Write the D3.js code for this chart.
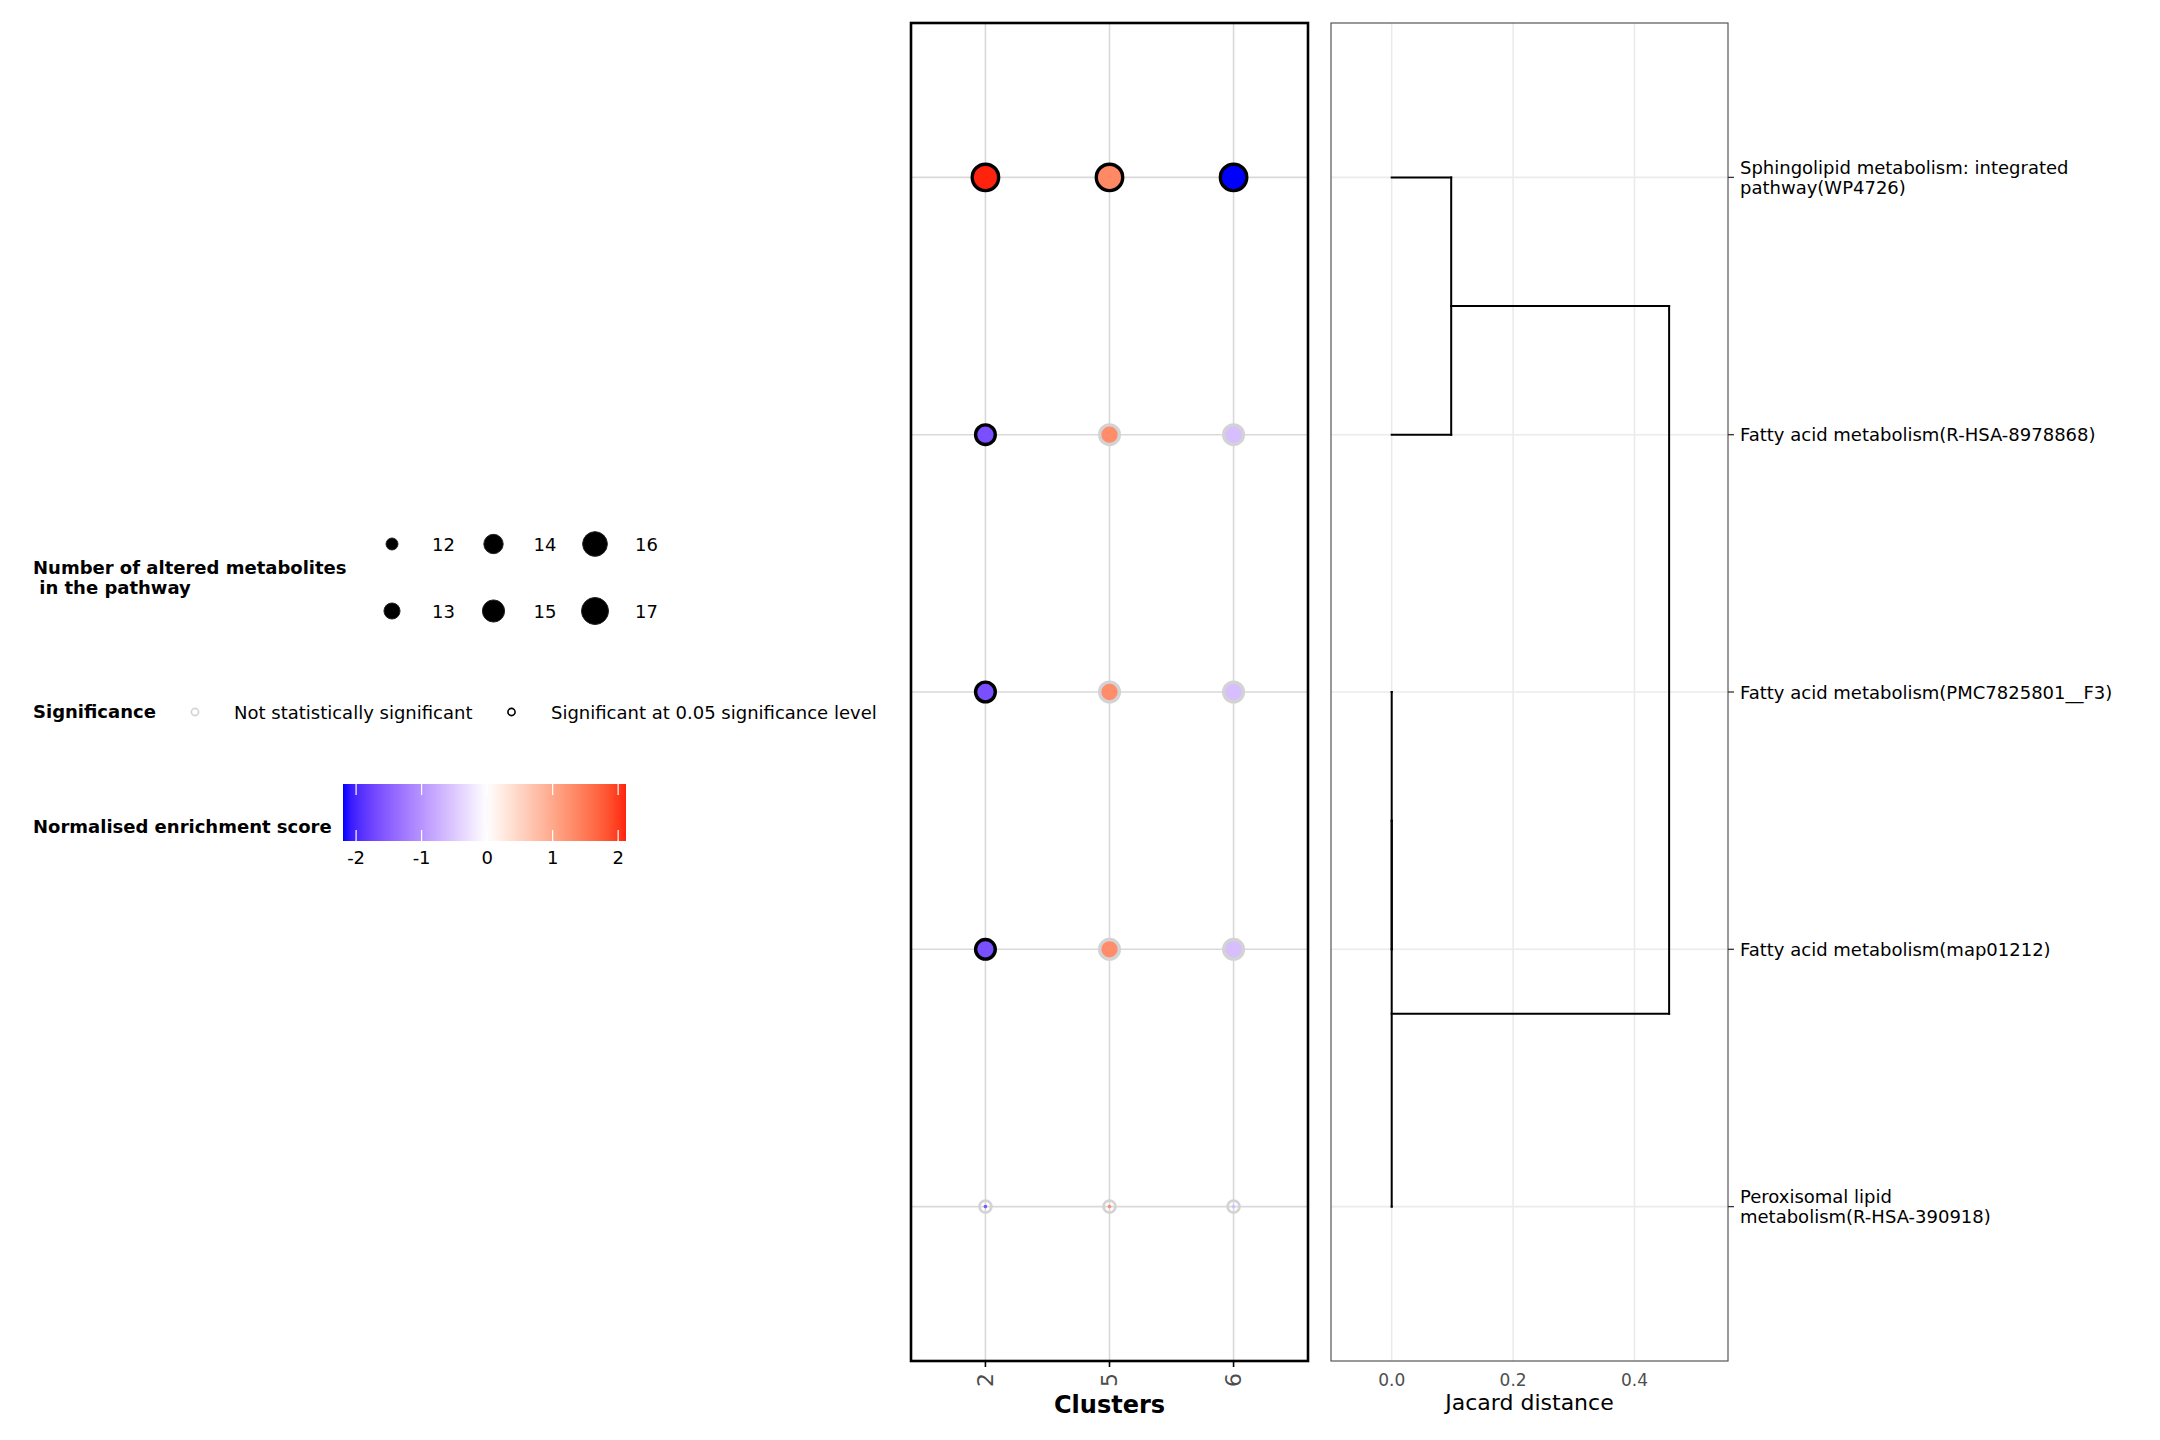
<!DOCTYPE html>
<html>
<head>
<meta charset="utf-8">
<script src="https://cdn.jsdelivr.net/npm/d3@7"></script>
<style>
  html, body { margin: 0; padding: 0; background: #fff; }
  svg { display: block; font-family: "DejaVu Sans", sans-serif; }
</style>
</head>
<body>
<svg id="chart" width="2160" height="1440"></svg>
<script>
// ---------------- data ----------------
const clusters = ["2", "5", "6"];
const pathways = [
  "Sphingolipid metabolism: integrated pathway(WP4726)",
  "Fatty acid metabolism(R-HSA-8978868)",
  "Fatty acid metabolism(PMC7825801__F3)",
  "Fatty acid metabolism(map01212)",
  "Peroxisomal lipid metabolism(R-HSA-390918)"
];
// normalised enrichment score per cluster (rows follow pathways)
const nesCluster2 = [2.12, -1.65, -1.65, -1.65, -1.6];
const nesCluster5 = [1.35, 1.3, 1.3, 1.3, 1.3];
const nesCluster6 = [-2.2, -0.6, -0.6, -0.6, -0.6];
// number of altered metabolites in the pathway
const sizeCluster2 = [17, 15, 15, 15, 12];
const sizeCluster5 = [17, 15, 15, 15, 12];
const sizeCluster6 = [17, 15, 15, 15, 12];
// significance (1 = significant at 0.05)
const sigCluster2 = [1, 1, 1, 1, 0];
const sigCluster5 = [1, 0, 0, 0, 0];
const sigCluster6 = [1, 0, 0, 0, 0];
// dendrogram (hclust-like merges, negative = leaf index, positive = merge index), heights = Jaccard distance
const dendroMerges = [[-3, -4], [1, -5], [-1, -2], [3, 2]];
const dendroHeights = [0, 0, 0.098, 0.457];
// legend / axis ticks
const sizeBreaks = [12, 13, 14, 15, 16, 17];
const nesBreaks = [-2, -1, 0, 1, 2];
const jacardTicks = [0.0, 0.2, 0.4];
const sigLabels = ["Not statistically significant", "Significant at 0.05 significance level"];

// ---------------- setup ----------------
const svg = d3.select("#chart");
svg.append("rect").attr("width", 2160).attr("height", 1440).attr("fill", "#fff");

const nesMin = d3.min([...nesCluster2, ...nesCluster5, ...nesCluster6]);
const nesMax = d3.max([...nesCluster2, ...nesCluster5, ...nesCluster6]);
const nesAbs = Math.max(Math.abs(nesMin), Math.abs(nesMax));
const colLow = d3.interpolateLab("#ffffff", "#0000ff");
const colHigh = d3.interpolateLab("#ffffff", "#ff0000");
const nesColor = v => v < 0 ? colLow(-v / nesAbs) : colHigh(v / nesAbs);

const sigColor = s => s ? "#000000" : "#d3d3d3";

// marker outer radius (plot) and legend key radius
const areaScale = d3.scaleLinear().domain([12, 17]).range([0, 222]).clamp(true);
const outerR = n => Math.sqrt(areaScale(n));
const legendArea = d3.scaleLinear().domain([12, 17]).range([42, 196]);
const legendR = n => Math.sqrt(legendArea(n));

const panelTop = 23, panelBottom = 1361;
const x = d3.scalePoint().domain(clusters).range([911, 1308]).padding(0.6);
const y = d3.scalePoint().domain(pathways).range([panelTop, panelBottom]).padding(0.6);

// ---------------- dot panel ----------------
const p1 = svg.append("g");
p1.selectAll("line.vg").data(clusters).join("line")
  .attr("x1", d => x(d)).attr("x2", d => x(d)).attr("y1", panelTop).attr("y2", panelBottom)
  .attr("stroke", "#d9d9d9").attr("stroke-width", 1.6);
p1.selectAll("line.hg").data(pathways).join("line")
  .attr("x1", 911).attr("x2", 1308).attr("y1", d => y(d)).attr("y2", d => y(d))
  .attr("stroke", "#d9d9d9").attr("stroke-width", 1.6);

const nesArr = [nesCluster2, nesCluster5, nesCluster6];
const sizeArr = [sizeCluster2, sizeCluster5, sizeCluster6];
const sigArr = [sigCluster2, sigCluster5, sigCluster6];
const points = [];
clusters.forEach((c, ci) => pathways.forEach((p, pi) => {
  points.push({ c, p, nes: nesArr[ci][pi], n: sizeArr[ci][pi], sig: sigArr[ci][pi] });
}));
const sw = 3.4;
p1.selectAll("circle.fill").data(points).join("circle")
  .attr("cx", d => x(d.c)).attr("cy", d => y(d.p))
  .attr("r", d => Math.max(outerR(d.n) - sw / 2, 1.8))
  .attr("fill", d => nesColor(d.nes));
p1.selectAll("circle.ring").data(points).join("circle")
  .attr("cx", d => x(d.c)).attr("cy", d => y(d.p))
  .attr("r", d => Math.max(outerR(d.n) - sw / 2, 6.0))
  .attr("fill", "none")
  .attr("stroke", d => sigColor(d.sig))
  .attr("stroke-width", d => outerR(d.n) < 6 ? 2.7 : sw);

p1.append("rect").attr("x", 911).attr("y", panelTop).attr("width", 397).attr("height", panelBottom - panelTop)
  .attr("fill", "none").attr("stroke", "#000").attr("stroke-width", 2.6);

// x axis
const xAxis = p1.append("g");
xAxis.selectAll("line").data(clusters).join("line")
  .attr("x1", d => x(d)).attr("x2", d => x(d)).attr("y1", panelBottom).attr("y2", panelBottom + 6)
  .attr("stroke", "#000").attr("stroke-width", 1.6);
xAxis.selectAll("text").data(clusters).join("text")
  .attr("transform", d => `translate(${x(d)},${panelBottom + 12}) rotate(-90)`)
  .attr("text-anchor", "end").attr("dominant-baseline", "central")
  .attr("font-size", 22).attr("fill", "#4d4d4d").text(d => d);
svg.append("text").attr("x", 1109.5).attr("y", 1413).attr("text-anchor", "middle")
  .attr("font-size", 24).attr("font-weight", "bold").text("Clusters");

// ---------------- dendrogram panel ----------------
const dx = d3.scaleLinear().domain([-0.1, 0.554]).range([1331, 1728]);
const p2 = svg.append("g");
p2.selectAll("line.vg").data(jacardTicks).join("line")
  .attr("x1", d => dx(d)).attr("x2", d => dx(d)).attr("y1", panelTop).attr("y2", panelBottom)
  .attr("stroke", "#ebebeb").attr("stroke-width", 1.6);
p2.selectAll("line.hg").data(pathways).join("line")
  .attr("x1", 1331).attr("x2", 1728).attr("y1", d => y(d)).attr("y2", d => y(d))
  .attr("stroke", "#ebebeb").attr("stroke-width", 1.6);

// compute dendrogram segments
const nodes = [];
const nodeInfo = id => id < 0 ? { y: y(pathways[-id - 1]), h: 0 } : nodes[id - 1];
const segs = [];
dendroMerges.forEach((m, i) => {
  const a = nodeInfo(m[0]), b = nodeInfo(m[1]);
  const h = dendroHeights[i];
  segs.push([a.h, a.y, h, a.y]);
  segs.push([b.h, b.y, h, b.y]);
  segs.push([h, a.y, h, b.y]);
  nodes.push({ y: (a.y + b.y) / 2, h });
});
p2.selectAll("line.seg").data(segs).join("line")
  .attr("x1", d => dx(d[0])).attr("x2", d => dx(d[2]))
  .attr("y1", d => d[1]).attr("y2", d => d[3])
  .attr("stroke", "#000").attr("stroke-width", 2).attr("stroke-linecap", "square");

p2.append("rect").attr("x", 1331).attr("y", panelTop).attr("width", 397).attr("height", panelBottom - panelTop)
  .attr("fill", "none").attr("stroke", "#555").attr("stroke-width", 1.2);

p2.selectAll("text.xt").data(jacardTicks).join("text")
  .attr("x", d => dx(d)).attr("y", 1386).attr("text-anchor", "middle")
  .attr("font-size", 17).attr("fill", "#4d4d4d").text(d => d3.format(".1f")(d));
svg.append("text").attr("x", 1529.5).attr("y", 1410).attr("text-anchor", "middle")
  .attr("font-size", 22).attr("fill", "#000").text("Jacard distance");

// right y axis labels
function wrap(s, w) {
  const words = s.split(" "); const lines = []; let cur = "";
  words.forEach(wd => {
    if (cur && (cur + " " + wd).length > w) { lines.push(cur); cur = wd; }
    else cur = cur ? cur + " " + wd : wd;
  });
  if (cur) lines.push(cur);
  return lines;
}
const yAx = svg.append("g");
yAx.selectAll("line").data(pathways).join("line")
  .attr("x1", 1728).attr("x2", 1734).attr("y1", d => y(d)).attr("y2", d => y(d))
  .attr("stroke", "#333").attr("stroke-width", 1.3);
pathways.forEach(p => {
  const lines = wrap(p, 40);
  const t = yAx.append("text").attr("x", 1740).attr("font-size", 18).attr("fill", "#000");
  const y0 = y(p) + 6.5 - (lines.length - 1) * 10;
  lines.forEach((l, i) => t.append("tspan").attr("x", 1740).attr("y", y0 + i * 20).text(l));
});

// ---------------- legends ----------------
const lg = svg.append("g").attr("font-size", 18).attr("fill", "#000");
// size legend
lg.append("text").attr("x", 33).attr("y", 574).attr("font-weight", "bold").text("Number of altered metabolites");
lg.append("text").attr("x", 33).attr("y", 594).attr("font-weight", "bold").attr("xml:space", "preserve").text(" in the pathway");
const keyX = [392, 493.5, 595], keyY = [544, 611];
sizeBreaks.forEach((b, i) => {
  const col = Math.floor(i / 2), row = i % 2;
  lg.append("circle").attr("cx", keyX[col]).attr("cy", keyY[row]).attr("r", legendR(b) - 0.5)
    .attr("fill", "#000").attr("stroke", "#222").attr("stroke-width", 1);
  lg.append("text").attr("x", keyX[col] + 40).attr("y", keyY[row] + 6.5).text(b);
});
// significance legend
lg.append("text").attr("x", 33).attr("y", 718).attr("font-weight", "bold").text("Significance");
[[195, 234, 0], [511.5, 551, 1]].forEach(([cx, tx, s], i) => {
  lg.append("circle").attr("cx", cx).attr("cy", 712).attr("r", 3.6).attr("fill", "none")
    .attr("stroke", sigColor(s)).attr("stroke-width", 1.6);
  lg.append("text").attr("x", tx).attr("y", 718.5).text(sigLabels[i]);
});
// colour bar
lg.append("text").attr("x", 33).attr("y", 833).attr("font-weight", "bold").text("Normalised enrichment score");
const cb = d3.scaleLinear().domain([nesMin, nesMax]).range([343, 626]);
const grad = svg.append("defs").append("linearGradient").attr("id", "nesgrad")
  .attr("x1", "0%").attr("x2", "100%").attr("y1", "0%").attr("y2", "0%");
d3.range(0, 41).forEach(i => {
  const v = nesMin + (nesMax - nesMin) * i / 40;
  grad.append("stop").attr("offset", (i / 40 * 100) + "%").attr("stop-color", nesColor(v));
});
lg.append("rect").attr("x", 343).attr("y", 784).attr("width", 283).attr("height", 57).attr("fill", "url(#nesgrad)");
nesBreaks.forEach(b => {
  lg.append("line").attr("x1", cb(b)).attr("x2", cb(b)).attr("y1", 784).attr("y2", 795)
    .attr("stroke", "#fff").attr("stroke-width", 1.2);
  lg.append("line").attr("x1", cb(b)).attr("x2", cb(b)).attr("y1", 830).attr("y2", 841)
    .attr("stroke", "#fff").attr("stroke-width", 1.2);
  lg.append("text").attr("x", cb(b)).attr("y", 864).attr("text-anchor", "middle").text(b);
});
</script>
</body>
</html>
